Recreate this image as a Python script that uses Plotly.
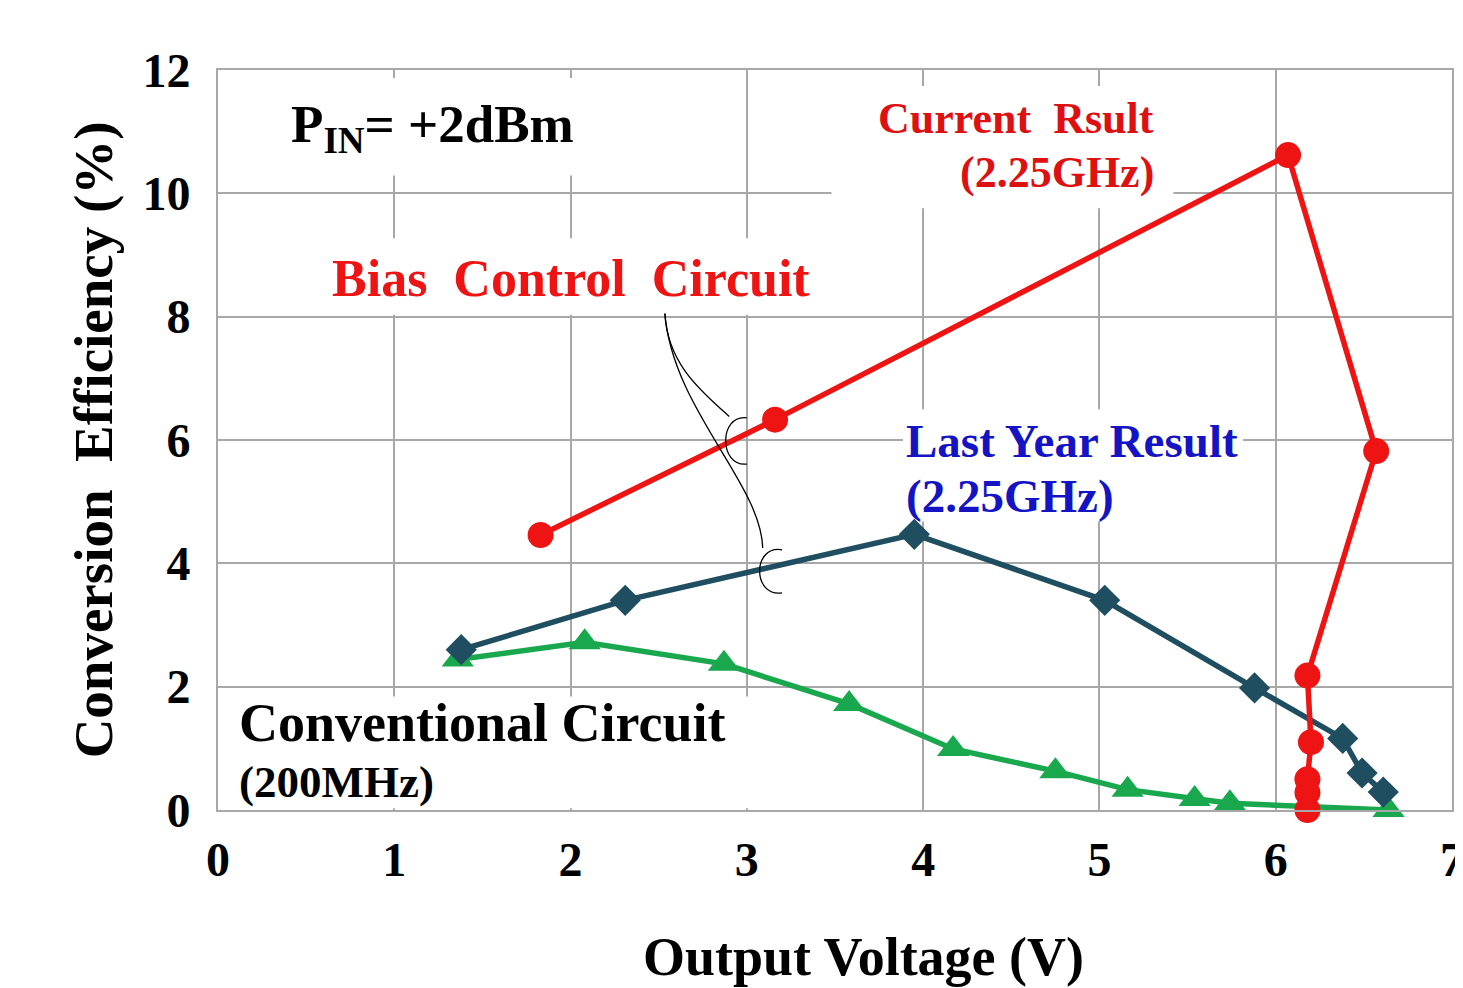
import plotly.graph_objects as go

# ---- data ----
cur_x = [1.83, 3.16, 6.07, 6.57, 6.18, 6.20, 6.18, 6.18, 6.18]
cur_y = [4.46, 6.33, 10.62, 5.82, 2.18, 1.10, 0.50, 0.28, 0.0]

last_x = [1.38, 2.31, 3.95, 5.03, 5.88, 6.38, 6.49, 6.61]
last_y = [2.60, 3.40, 4.47, 3.40, 1.98, 1.16, 0.60, 0.29]

conv_x = [1.36, 2.08, 2.87, 3.58, 4.17, 4.75, 5.16, 5.54, 5.74, 6.64]
conv_y = [2.44, 2.72, 2.37, 1.72, 0.99, 0.63, 0.33, 0.18, 0.11, 0.0]

x_ticks = [0, 1, 2, 3, 4, 5, 6, 7]
y_ticks = [0, 2, 4, 6, 8, 10, 12]

FONT = "Liberation Serif, Times New Roman, serif"
RED = "#ee1414"
TEAL = "#1f4e60"
GREEN = "#1aa84e"
GRID = "#a8a8a8"

fig = go.Figure()
fig.add_trace(go.Scatter(x=conv_x, y=conv_y, mode="lines+markers",
                         line=dict(color=GREEN, width=5.5),
                         marker=dict(symbol="triangle-up", size=28, color=GREEN),
                         name="Conventional", cliponaxis=False))
fig.add_trace(go.Scatter(x=last_x, y=last_y, mode="lines+markers",
                         line=dict(color=TEAL, width=5.5),
                         marker=dict(symbol="diamond", size=24, color=TEAL),
                         name="Last Year", cliponaxis=False))
fig.add_trace(go.Scatter(x=cur_x, y=cur_y, mode="lines+markers",
                         line=dict(color=RED, width=5.5),
                         marker=dict(symbol="circle", size=26, color=RED),
                         name="Current", cliponaxis=False))

# white label boxes (over grid, under data)
boxes = [
    (0.05, 10.29, 2.40, 11.87),
    (0.61, 8.03, 3.41, 9.27),
    (3.48, 9.76, 5.42, 11.74),
    (3.885, 4.68, 5.814, 6.50),
    (0.01, 0.03, 3.07, 1.84),
]
for x0, y0, x1, y1 in boxes:
    fig.add_shape(type="rect", xref="x", yref="y", x0=x0, y0=y0, x1=x1, y1=y1,
                  fillcolor="white", line=dict(width=0), layer="between")

# bracket leader lines
pen = dict(color="black", width=1.3)
fig.add_shape(type="path", xref="x", yref="y",
              path="M 2.535,8.05 C 2.55,7.2 2.76,6.75 2.90,6.38", line=pen)
fig.add_shape(type="path", xref="x", yref="y",
              path="M 2.535,8.05 C 2.58,6.5 3.08,5.3 3.09,4.25", line=pen)
fig.add_shape(type="path", xref="x", yref="y",
              path="M 3.00,6.36 C 2.84,6.42 2.84,5.56 3.00,5.61", line=pen)
fig.add_shape(type="path", xref="x", yref="y",
              path="M 3.20,4.22 C 3.03,4.30 3.03,3.45 3.20,3.52", line=pen)

def ann(text, x, y, size, color="black", xanchor="left"):
    fig.add_annotation(text=text, x=x, y=y, xref="x", yref="y", showarrow=False,
                       xanchor=xanchor, yanchor="middle",
                       font=dict(family=FONT, size=size, color=color, weight="bold"))

ann("P<sub>IN</sub>= +2dBm", 0.40, 11.06, 53)
ann("Bias  Control  Circuit", 2.0, 8.62, 52, RED, xanchor="center")
ann("Current  Rsult", 3.73, 11.22, 44, "#dd1111")
ann("(2.25GHz)", 4.20, 10.33, 44, "#dd1111")
ann("Last Year Result", 3.89, 5.98, 47, "#1414c4")
ann("(2.25GHz)", 3.89, 5.09, 47, "#1414c4")
ann("Conventional Circuit", 0.11, 1.41, 54)
ann("(200MHz)", 0.11, 0.455, 45)

# axis titles
fig.add_annotation(text="Output Voltage (V)", x=0.523, y=-0.199, xref="paper", yref="paper",
                   showarrow=False, xanchor="center", yanchor="middle",
                   font=dict(family=FONT, size=54, color="black", weight="bold"))
fig.add_annotation(text="Conversion  Efficiency (%)", x=-0.101, y=0.5, xref="paper", yref="paper",
                   showarrow=False, xanchor="center", yanchor="middle", textangle=-90,
                   font=dict(family=FONT, size=55, color="black", weight="bold"))

fig.update_xaxes(range=[0, 7], tickvals=x_ticks, ticktext=[str(v) for v in x_ticks],
                 showgrid=True, gridcolor=GRID, gridwidth=2, zeroline=False,
                 showline=True, linecolor=GRID, linewidth=2, mirror=True,
                 ticks="", ticklabelstandoff=6, automargin=False,
                 ticklabeloverflow="allow",
                 tickfont=dict(family=FONT, size=48, color="black", weight="bold"))
fig.update_yaxes(range=[0, 12], tickvals=y_ticks, ticktext=[str(v) for v in y_ticks],
                 showgrid=True, gridcolor=GRID, gridwidth=2, zeroline=False,
                 showline=True, linecolor=GRID, linewidth=2, mirror=True,
                 ticks="", ticklabelstandoff=16, automargin=False,
                 tickfont=dict(family=FONT, size=48, color="black", weight="bold"))

# page body has an 8px margin, so the figure is sized and offset to match
fig.update_layout(width=1455, height=980, showlegend=False,
                  margin=dict(l=210, r=11, t=62, b=178),
                  paper_bgcolor="white", plot_bgcolor="white")

fig.write_html("out.html")
